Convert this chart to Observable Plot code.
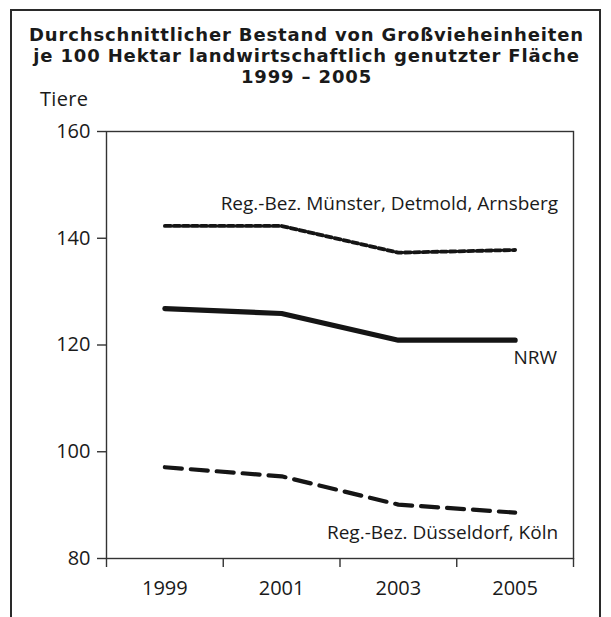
<!DOCTYPE html>
<html>
<head>
<meta charset="utf-8">
<script src="https://cdn.jsdelivr.net/npm/d3@7"></script>
<script src="https://cdn.jsdelivr.net/npm/@observablehq/plot@0.6"></script>
<style>
  html, body { margin: 0; padding: 0; background: #fff; }
  body { width: 611px; height: 617px; position: relative; overflow: hidden; font-family: "Open Sans", "Noto Sans", sans-serif; color: #1a1a1a; }
  #frame { position: absolute; left: 10px; top: 9px; width: 591px; height: 700px; border: 2px solid #2a2a2a; box-sizing: border-box; }
  .tl { position: absolute; left: 1px; width: 611px; height: 21px; text-align: center; font-family: "DejaVu Sans", "Open Sans", sans-serif; font-weight: 700; font-size: 18px; line-height: 21px; letter-spacing: 0.85px; white-space: nowrap; }
  #ylabel { position: absolute; left: 40px; top: 88px; font-size: 20px; line-height: 22px; letter-spacing: 0.3px; }
  #chart { position: absolute; left: 0; top: 0; }
</style>
</head>
<body>
<div id="frame"></div>
<div class="tl" style="top:24px">Durchschnittlicher Bestand von Großvieheinheiten</div>
<div class="tl" style="top:45px">je 100 Hektar landwirtschaftlich genutzter Fläche</div>
<div class="tl" style="top:66px">1999 – 2005</div>
<div id="ylabel">Tiere</div>
<div id="chart"></div>
<script>
const years = [1999, 2001, 2003, 2005];
const nrw = [126.8, 125.9, 120.9, 120.9];
const muenster = [142.3, 142.3, 137.3, 137.8];
const duesseldorf = [97.1, 95.4, 90.1, 88.6];
const seriesNames = ["NRW", "Reg.-Bez. Münster, Detmold, Arnsberg", "Reg.-Bez. Düsseldorf, Köln"];
const yTicks = [80, 100, 120, 140, 160];
const xBoundaries = [1998, 2000, 2002, 2004, 2006];

const mk = (vals) => years.map((year, i) => ({year, value: vals[i]}));
const dNrw = mk(nrw), dMue = mk(muenster), dDue = mk(duesseldorf);
const last = (d) => [d[d.length - 1]];

const ink = "#151515";
const txt = "#1a1a1a";
const chart = Plot.plot({
  width: 611,
  height: 617,
  marginLeft: 106,
  marginRight: 38,
  marginTop: 131,
  marginBottom: 59,
  style: { fontFamily: "'Open Sans', 'Noto Sans', sans-serif", fontSize: "20px", color: txt, background: "transparent" },
  x: { domain: [1998, 2006] },
  y: { domain: [80, 160] },
  marks: [
    Plot.frame({ stroke: "#333", strokeWidth: 1.4 }),
    Plot.axisY({ ticks: yTicks, tickSize: 9, tickPadding: 7, label: null, stroke: "#333", strokeWidth: 1.4, fontSize: 20 }),
    Plot.axisX({ ticks: xBoundaries, tickSize: 9, tickFormat: () => "", label: null, stroke: "#333", strokeWidth: 1.4 }),
    Plot.axisX({ ticks: years, tickSize: 0, tickPadding: 22, tickFormat: d => String(d), label: null, fontSize: 20 }),
    Plot.line(dMue, { x: "year", y: "value", stroke: ink, strokeWidth: 3.8, strokeDasharray: "6,3" }),
    Plot.line(dNrw, { x: "year", y: "value", stroke: ink, strokeWidth: 5.2, strokeLinecap: "round" }),
    Plot.line(dDue, { x: "year", y: "value", stroke: ink, strokeWidth: 4.2, strokeDasharray: "17,9" }),
    Plot.text(last(dMue), { x: "year", y: "value", text: () => seriesNames[1], textAnchor: "end", dx: 43, dy: -46, fill: txt, fontSize: 19 }),
    Plot.text(last(dNrw), { x: "year", y: "value", text: () => seriesNames[0], textAnchor: "end", dx: 42, dy: 18, fill: txt, fontSize: 19 }),
    Plot.text(last(dDue), { x: "year", y: "value", text: () => seriesNames[2], textAnchor: "end", dx: 43, dy: 20, fill: txt, fontSize: 19 })
  ]
});
document.getElementById("chart").appendChild(chart);
</script>
</body>
</html>
